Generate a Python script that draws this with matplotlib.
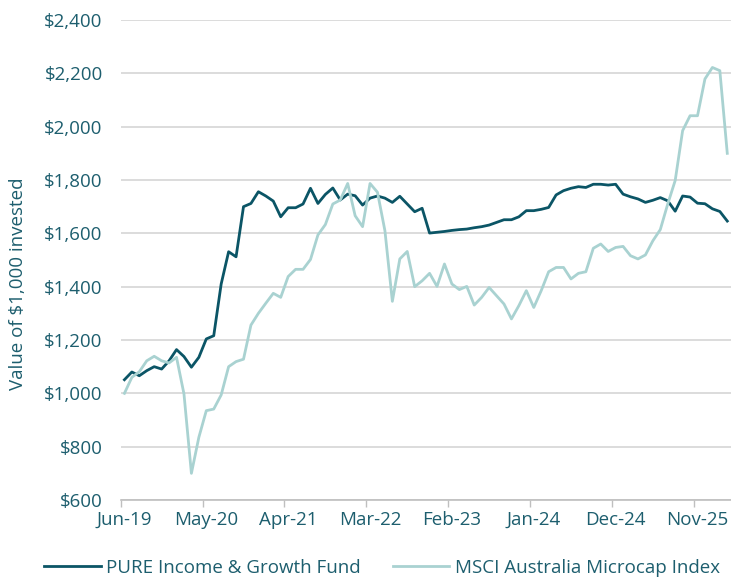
import matplotlib
matplotlib.use("Agg")
import matplotlib.pyplot as plt
from matplotlib.ticker import FuncFormatter

# monthly values of $1,000 invested, Jun-19 .. Mar-26
pure_fund = [
    1051, 1080, 1066, 1085, 1100, 1091, 1122, 1164, 1138, 1098,
    1135, 1204, 1216, 1410, 1531, 1512, 1700, 1712, 1756, 1740,
    1721, 1662, 1696, 1696, 1710, 1769, 1712, 1746, 1770, 1725,
    1747, 1741, 1706, 1732, 1740, 1732, 1716, 1739, 1710, 1681,
    1694, 1601, 1604, 1607, 1611, 1614, 1616, 1621, 1625, 1631,
    1641, 1651, 1651, 1662, 1685, 1685, 1690, 1697, 1744, 1760,
    1769, 1775, 1772, 1784, 1784, 1781, 1784, 1747, 1737, 1729,
    1716, 1724, 1734, 1722, 1683, 1740, 1736, 1713, 1711, 1692,
    1682, 1646,
]
msci_micro = [
    1000, 1060, 1081, 1122, 1139, 1122, 1114, 1135, 998, 700,
    835, 935, 941, 994, 1100, 1119, 1128, 1256, 1300, 1338,
    1375, 1360, 1438, 1465, 1465, 1502, 1594, 1633, 1710, 1725,
    1787, 1666, 1625, 1787, 1754, 1610, 1345, 1504, 1532, 1400,
    1422, 1450, 1401, 1485, 1410, 1389, 1401, 1331, 1360, 1397,
    1366, 1335, 1279, 1329, 1385, 1322, 1385, 1456, 1472, 1472,
    1429, 1450, 1456, 1544, 1560, 1532, 1547, 1551, 1516, 1504,
    1519, 1572, 1614, 1710, 1798, 1985, 2041, 2041, 2179, 2222,
    2210, 1900,
]
tick_labels = ["Jun-19", "May-20", "Apr-21", "Mar-22", "Feb-23", "Jan-24", "Dec-24", "Nov-25"]
series_names = ["PURE Income & Growth Fund", "MSCI Australia Microcap Index"]

DARK = "#0b5566"
LIGHT = "#a9d2d1"
TEXT = "#1d5e6e"
FS = 13.5

plt.rcParams["font.family"] = ["Open Sans", "DejaVu Sans"]

fig = plt.figure(figsize=(7.31, 5.79), dpi=100)
ax = fig.add_axes([120.7 / 731, 1 - 500 / 579, 1 - 120.7 / 731, 480 / 579])

x = list(range(len(pure_fund)))
ax.plot(x, pure_fund, color=DARK, lw=2.0, label=series_names[0], zorder=3)
ax.plot(x, msci_micro, color=LIGHT, lw=2.0, label=series_names[1], zorder=4)

ax.set_xlim(-0.5, len(x) - 0.5)
ax.set_ylim(600, 2400)

# category ticks sit between months, labels on the month itself
step = 11
ax.set_xticks([k * step - 0.5 for k in range(len(tick_labels))])
ax.set_xticklabels([])
ax.set_xticks([k * step for k in range(len(tick_labels))], minor=True)
ax.set_xticklabels(tick_labels, minor=True)
ax.tick_params(axis="x", which="major", length=5, width=1, color="#bfbfbf", direction="out")
ax.tick_params(axis="x", which="minor", length=0, pad=8, labelsize=FS, labelcolor=TEXT)

ax.set_yticks(range(600, 2401, 200))
ax.yaxis.set_major_formatter(FuncFormatter(lambda v, p: f"${v:,.0f}"))
ax.tick_params(axis="y", length=0, pad=13, labelsize=FS, labelcolor=TEXT)

ax.grid(axis="y", color="#d9d9d9", lw=1.3, zorder=0)
ax.set_axisbelow(True)
for side in ["top", "right", "left"]:
    ax.spines[side].set_visible(False)
ax.spines["bottom"].set_color("#bfbfbf")
ax.spines["bottom"].set_linewidth(1.2)
ax.spines["bottom"].set_zorder(5)

fig.text(18 / 731, 1 - 284 / 579, "Value of $1,000 invested", rotation=90,
         ha="center", va="center", fontsize=FS, color=TEXT)

fig.legend(loc="center", bbox_to_anchor=(382 / 731, 1 - 568 / 579), ncol=2,
           frameon=False, fontsize=FS, labelcolor=TEXT, handlelength=3.0,
           handletextpad=0.3, columnspacing=1.7, borderaxespad=0)

fig.savefig("out.png", dpi=100)
